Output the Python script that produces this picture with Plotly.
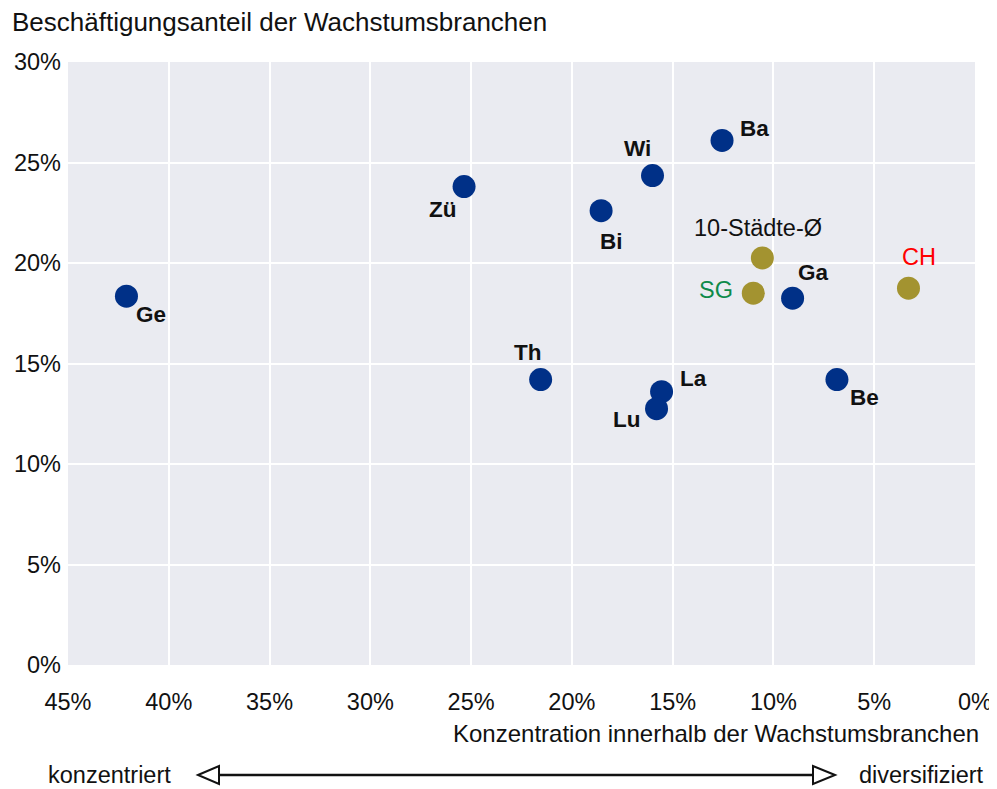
import plotly.graph_objects as go

# Data
cities = ["Ge", "Zü", "Th", "Bi", "Wi", "La", "Lu", "Ba", "Ga", "Be"]
conc = [42.1, 25.35, 21.55, 18.55, 16.0, 15.55, 15.8, 12.55, 9.05, 6.85]
share = [18.35, 23.8, 14.2, 22.6, 24.35, 13.6, 12.75, 26.1, 18.25, 14.2]

ref_names = ["10-Städte-Ø", "SG", "CH"]
ref_conc = [10.55, 11.0, 3.3]
ref_share = [20.25, 18.5, 18.75]

x_ticks = [45, 40, 35, 30, 25, 20, 15, 10, 5, 0]
y_ticks = [0, 5, 10, 15, 20, 25, 30]

# label offsets (px) for annotations
city_off = {"Ge": (25, 18), "Zü": (-21, 23), "Th": (-13, -27), "Bi": (10, 31),
            "Wi": (-15, -27), "La": (32, -13), "Lu": (-30, 11), "Ba": (32, -12),
            "Ga": (21, -26), "Be": (28, 18)}
ref_off = {"10-Städte-Ø": (-4, -30), "SG": (-37, -3), "CH": (11, -31)}
ref_colors = {"10-Städte-Ø": "#111111", "SG": "#0E8A4A", "CH": "#FF0000"}

FONT = "Liberation Sans, Arial, sans-serif"
BLUE = "#003087"
GOLD = "#A39330"
TXT = "#111111"

fig = go.Figure()
fig.add_trace(go.Scatter(x=conc, y=share, mode="markers",
                         marker=dict(size=23, color=BLUE), hoverinfo="skip"))
fig.add_trace(go.Scatter(x=ref_conc, y=ref_share, mode="markers",
                         marker=dict(size=23, color=GOLD), hoverinfo="skip"))

anns = []
for n, xv, yv in zip(cities, conc, share):
    dx, dy = city_off[n]
    anns.append(dict(x=xv, y=yv, xref="x", yref="y", text=f"<b>{n}</b>", showarrow=False,
                     xshift=dx, yshift=-dy, font=dict(size=22.5, color=TXT, family=FONT)))
for n, xv, yv in zip(ref_names, ref_conc, ref_share):
    dx, dy = ref_off[n]
    anns.append(dict(x=xv, y=yv, xref="x", yref="y", text=n, showarrow=False,
                     xshift=dx, yshift=-dy, font=dict(size=23.5, color=ref_colors[n], family=FONT)))

# plot-area edges in screenshot pixels (page has 8px body margin)
L, R, T, B = 68, 975, 62, 665
W, H = R - L, B - T
OFF = 8
FW, FH = 997 - OFF, 789 - OFF


def px(xp):
    return (xp - L) / W


def py(yp):
    return (B - yp) / H


anns.append(dict(x=px(10), y=py(22), xref="paper", yref="paper", text="Beschäftigungsanteil der Wachstumsbranchen",
                 showarrow=False, xanchor="left", yanchor="middle",
                 font=dict(size=26, color=TXT, family=FONT)))
anns.append(dict(x=px(981), y=py(733), xref="paper", yref="paper", text="Konzentration innerhalb der Wachstumsbranchen",
                 showarrow=False, xanchor="right", yanchor="middle",
                 font=dict(size=24, color=TXT, family=FONT)))
anns.append(dict(x=px(46), y=py(775), xref="paper", yref="paper", text="konzentriert",
                 showarrow=False, xanchor="left", yanchor="middle",
                 font=dict(size=23.5, color=TXT, family=FONT)))
anns.append(dict(x=px(986), y=py(775), xref="paper", yref="paper", text="diversifiziert",
                 showarrow=False, xanchor="right", yanchor="middle",
                 font=dict(size=23.5, color=TXT, family=FONT)))

ay = 775
shapes = [
    dict(type="line", xref="paper", yref="paper", x0=px(219), x1=px(813), y0=py(ay), y1=py(ay),
         line=dict(color=TXT, width=2.5)),
    dict(type="path", xref="paper", yref="paper",
         path=f"M {px(198)} {py(ay)} L {px(219)} {py(ay-9)} L {px(219)} {py(ay+9)} Z",
         line=dict(color=TXT, width=2), fillcolor="white"),
    dict(type="path", xref="paper", yref="paper",
         path=f"M {px(835)} {py(ay)} L {px(813)} {py(ay-9)} L {px(813)} {py(ay+9)} Z",
         line=dict(color=TXT, width=2), fillcolor="white"),
]

fig.update_layout(
    width=FW, height=FH,
    margin=dict(l=L - OFF, r=FW - (R - OFF), t=T - OFF, b=FH - (B - OFF), autoexpand=False),
    paper_bgcolor="white", plot_bgcolor="#EAEBF1",
    showlegend=False,
    font=dict(family=FONT, size=23.5, color=TXT),
    annotations=anns, shapes=shapes,
    xaxis=dict(range=[45, 0], tickvals=x_ticks, ticktext=[f"{v}%" for v in x_ticks],
               showgrid=True, gridcolor="white", gridwidth=1.5, zeroline=False,
               ticks="", ticklabelstandoff=20, showline=False, automargin=False,
               tickfont=dict(size=23.5, family=FONT, color=TXT)),
    yaxis=dict(range=[0, 30], tickvals=y_ticks, ticktext=[f"{v}%" for v in y_ticks],
               showgrid=True, gridcolor="white", gridwidth=1.5, zeroline=False,
               ticks="", ticklabelstandoff=6, showline=False, automargin=False,
               tickfont=dict(size=23.5, family=FONT, color=TXT)),
)

fig.write_html("out.html")
